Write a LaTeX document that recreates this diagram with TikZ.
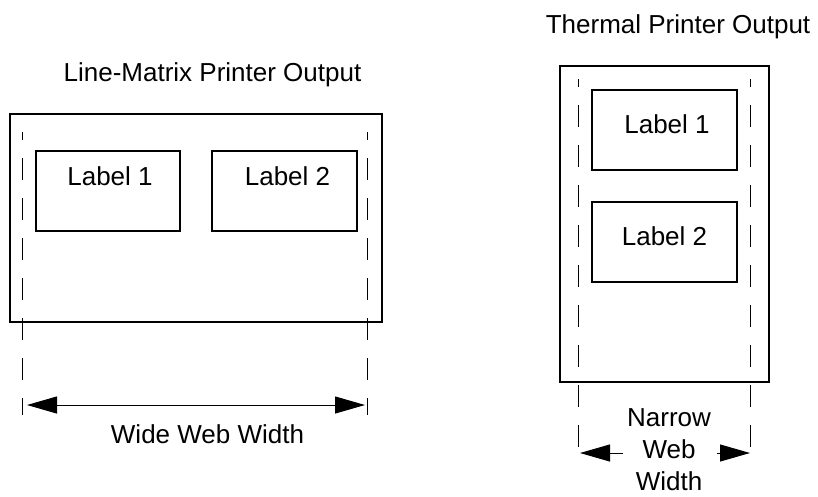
\documentclass[tikz,border=0pt]{standalone}
\usepackage{fontspec}
\setmainfont{Liberation Sans}
\usetikzlibrary{arrows.meta}
\begin{document}
\begin{tikzpicture}[x=1pt,y=-1pt,
  every node/.style={inner sep=0pt, outer sep=0pt},
  txt/.style={font=\fontsize{26}{32}\selectfont, anchor=base},
  sheet/.style={draw, line width=1.1pt, rectangle},
  labelbox/.style={draw, line width=1.1pt, rectangle, minimum height=80pt},
  webline/.style={line width=1pt, dash pattern=on 22pt off 18pt, dash phase=14pt},
  dimarrow/.style={line width=1pt, -{Triangle[length=30pt,width=17pt]}}]
\useasboundingbox (0,0) rectangle (818,496);

% ---------- Line-Matrix ----------
\node[txt] (lmtitle) at (212.5,81) {Line-Matrix Printer Output};
\node[sheet, minimum width=372pt, minimum height=208pt] (lmsheet) at (196,218) {};
\node[labelbox, minimum width=144pt] (lmL1) at (108,191) {};
\node[labelbox, minimum width=145pt] (lmL2) at (284.5,191) {};
\node[txt] (lmL1t) at (110,185) {Label 1};
\node[txt] (lmL2t) at (287.5,185) {Label 2};

\coordinate (lmdlt) at (22,132);
\coordinate (lmdlb) at (22,415);
\coordinate (lmdrt) at (367,132);
\coordinate (lmdrb) at (367,415);
\draw[webline] (lmdlt) -- (lmdlb);
\draw[webline] (lmdrt) -- (lmdrb);

\coordinate (wideL) at (27,405);
\coordinate (wideR) at (365,405);
\coordinate (wideM) at (196,405);
\draw[dimarrow] (wideM) -- (wideL);
\draw[dimarrow] (wideM) -- (wideR);
\node[txt] (widet) at (207.5,443) {Wide Web Width};

% ---------- Thermal ----------
\node[txt] (thtitle) at (678,33) {Thermal Printer Output};
\node[sheet, minimum width=209pt, minimum height=316pt] (thsheet) at (664.5,224) {};
\node[labelbox, minimum width=145pt] (thL1) at (664.5,130) {};
\node[labelbox, minimum width=145pt] (thL2) at (664.5,242) {};
\node[txt] (thL1t) at (667,133) {Label 1};
\node[txt] (thL2t) at (664.5,245) {Label 2};

\coordinate (thdlt) at (578,79);
\coordinate (thdlb) at (578,461);
\coordinate (thdrt) at (750,79);
\coordinate (thdrb) at (750,461);
\draw[webline] (thdlt) -- (thdlb);
\draw[webline] (thdrt) -- (thdrb);

\coordinate (narLs) at (623,453);
\coordinate (narLt) at (580,453);
\coordinate (narRs) at (717,453);
\coordinate (narRt) at (750,453);
\draw[dimarrow] (narLs) -- (narLt);
\draw[dimarrow] (narRs) -- (narRt);
\node[txt, text width=120pt, align=center] (nart) at (669,426) {Narrow\\Web\\Width};
\end{tikzpicture}
\end{document}
